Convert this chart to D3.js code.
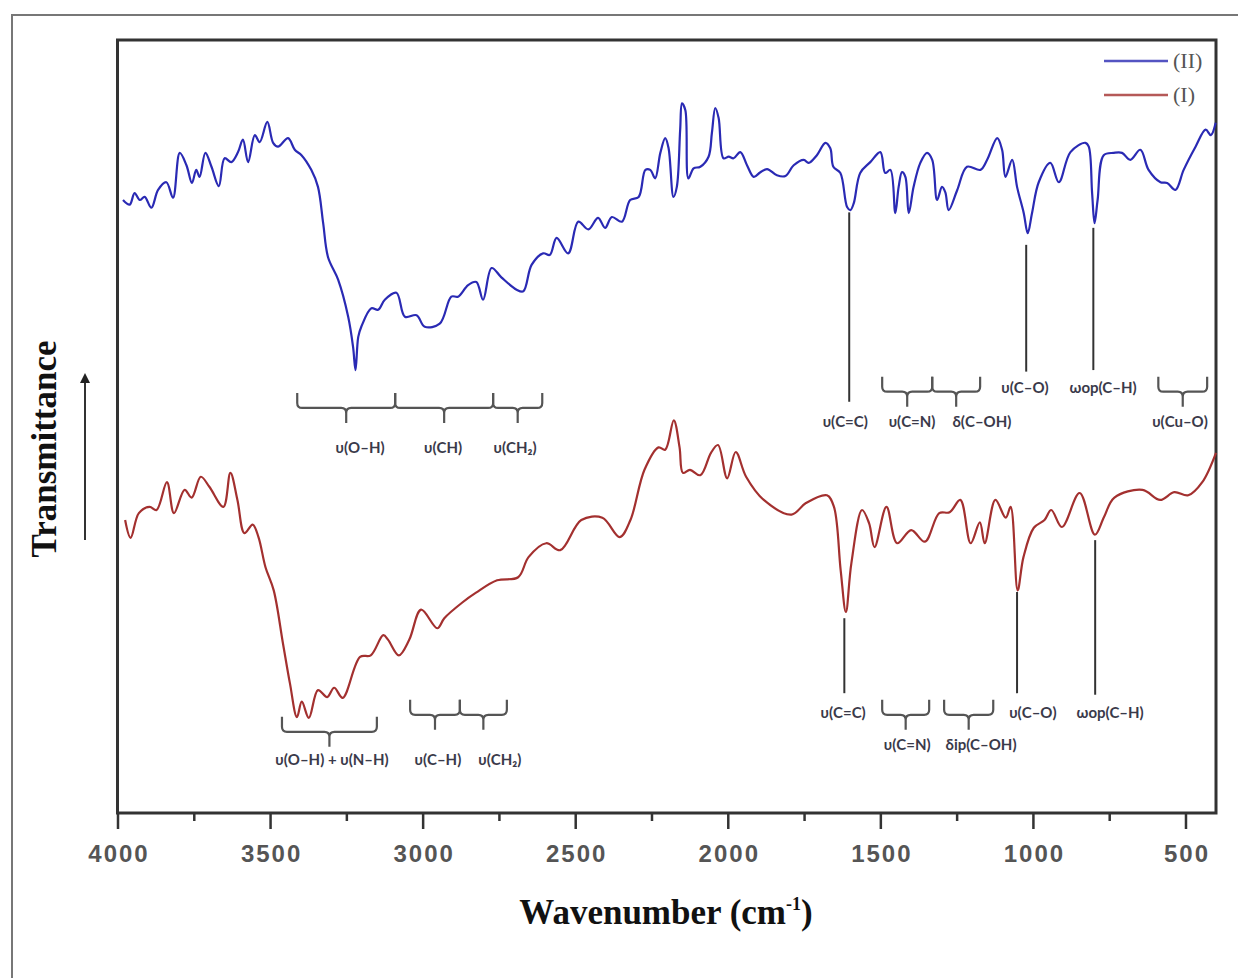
<!DOCTYPE html>
<html lang="en">
<head>
  <meta charset="utf-8">
  <title>FTIR (I) and (II)</title>
  <script src="https://d3js.org/d3.v7.min.js"></script>
  <style>
    body { margin: 0; background: #fff; }
    .tick-lab { font: bold 24px "Liberation Sans", Arial, sans-serif; fill: #555; letter-spacing: 2px; }
    .ann { font: bold 15px Lato, "Open Sans", sans-serif; fill: #3a3a4a; }
    .title { font-family: "Liberation Serif", "Times New Roman", serif; font-weight: bold; fill: #111; }
    .leg { font: 22px "Liberation Serif", serif; fill: #555; }
  </style>
</head>
<body>
<div id="chart"></div>
<script>
"use strict"

// spectrum (II) - blue, wavenumber (cm-1) and transmittance (a.u.)
var wnII = [3982,3960,3944,3927,3911,3889,3867,3840,3818,3796,3774,3756,3742,3731,3712,3692,3668,3649,3627,3605,
  3589,3572,3550,3534,3509,3490,3474,3441,3419,3397,3365,3343,3326,3310,3277,3244,3228,3220,3211,3201,
  3168,3146,3124,3086,3058,3020,2993,2944,2906,2884,2851,2824,2802,2774,2742,2692,2670,2643,2605,2583,
  2561,2523,2490,2457,2425,2402,2380,2347,2320,2292,2270,2254,2238,2221,2205,2194,2178,2167,2156,2150,
  2139,2129,2112,2090,2063,2052,2041,2030,2014,1997,1981,1959,1937,1915,1893,1871,1839,1811,1784,1751,
  1735,1708,1680,1664,1654,1631,1609,1598,1587,1566,1533,1500,1484,1467,1451,1440,1429,1418,1407,1391,
  1369,1347,1330,1314,1298,1287,1276,1248,1216,1172,1150,1117,1101,1090,1068,1052,1030,1017,1003,981,
  943,915,877,828,817,806,798,788,768,735,708,681,648,621,582,560,533,506,467,434,417,401];
var tII = [79.3,78.7,80.2,79.3,79.7,78.3,80.6,81.6,79.6,85.4,83.8,81.5,83.2,82.3,85.4,83.6,81.1,84.7,84.2,85.5,
  87.1,84.2,87.7,86.8,89.4,86.7,86.2,87.3,85.8,85.1,83.2,81.0,76.3,71.9,69.0,64.2,60.3,57.3,61.6,62.9,
  65.3,65.1,66.4,67.3,64.2,64.4,62.9,63.3,66.8,66.8,68.3,68.7,66.4,70.5,69.3,67.7,67.5,70.9,72.4,72.2,
  74.4,72.4,76.5,75.5,77.0,75.7,77.1,76.5,79.3,79.7,83.2,83.2,82.1,85.4,87.3,86.0,79.7,81.0,88.4,91.8,
  90.9,82.1,83.4,83.6,84.9,88.0,91.2,89.9,84.7,84.9,84.7,85.5,83.8,82.3,82.9,83.3,82.5,82.4,83.8,84.5,
  84.1,85.1,86.7,86.0,83.6,82.8,78.4,78.0,78.9,82.8,84.2,85.5,82.8,83.2,77.6,81.0,82.9,82.3,77.6,81.0,
  84.1,85.4,84.5,79.3,81.0,80.3,78.0,80.6,83.6,83.2,84.5,87.3,85.8,82.3,84.5,81.0,77.6,75.0,77.6,81.6,
  84.1,81.6,85.5,86.7,86.2,80.2,76.3,79.3,85.1,85.4,85.4,84.5,85.8,83.2,81.6,81.5,80.6,83.2,86.2,88.4,87.7,89.3];

// spectrum (I) - red
var wnI = [3975,3957,3930,3895,3872,3838,3815,3780,3757,3727,3699,3653,3630,3607,3584,3557,3538,3515,3488,3458,
  3435,3412,3396,3373,3343,3313,3290,3262,3205,3170,3129,3113,3078,3044,3005,2952,2929,2871,2825,2756,
  2687,2653,2595,2549,2480,2411,2354,2319,2273,2227,2205,2177,2158,2147,2124,2090,2055,2032,2002,1974,
  1940,1882,1791,1744,1675,1652,1630,1613,1595,1560,1537,1519,1480,1445,1399,1354,1307,1273,1238,1204,
  1174,1158,1123,1089,1073,1050,1031,997,962,940,905,847,797,767,733,641,583,537,491,445,400];
var tI = [37.9,35.6,38.8,39.6,39.2,42.8,38.8,41.8,40.8,43.5,42.2,39.6,44.0,40.5,36.2,37.3,35.7,31.8,28.8,22.0,
  16.8,12.4,14.4,12.3,15.9,15.0,16.2,14.9,20.2,20.4,23.0,22.4,20.4,22.4,26.3,23.9,25.2,27.2,28.5,30.1,
  30.5,33.1,34.9,34.0,37.9,38.2,35.7,37.9,44.4,47.3,47.0,50.8,47.3,44.0,44.4,43.7,46.6,47.6,43.3,46.7,
  43.5,40.5,38.6,40.1,41.1,39.6,31.4,26.0,32.3,39.2,37.5,34.4,39.6,34.9,36.6,35.1,38.8,38.9,40.5,34.9,
  37.6,34.9,40.5,38.2,39.6,28.8,33.1,36.9,37.9,39.2,37.0,41.4,36.0,38.3,40.8,41.8,40.5,41.5,41.1,42.8,46.6];

var majorTicks = [4000,3500,3000,2500,2000,1500,1000,500];
var minorTicks = [3750,3250,2750,2250,1750,1250,750];

// band assignments: vertical lines [wn, from, to], brackets [from, to, level], labels [text, wn, level]
var linesII = [[1602,77.7,53.2],[1022,73.5,57.1],[802,75.7,57.3]];
var bracketsII = [[3411,3090,52.4],[3090,2769,52.4],[2769,2608,52.4],[1494,1330,54.5],[1330,1173,54.5],[589,429,54.5]];
var labelsII = [["υ(O–H)",3205,46.6],["υ(CH)",2933,46.6],["υ(CH₂)",2697,46.6],
  ["υ(C=C)",1615,49.9],["υ(C=N)",1396,49.9],["δ(C–OH)",1167,49.9],["υ(Cu–O)",518,49.9],
  ["υ(C–O)",1026,54.3],["ωop(C–H)",770,54.3]];
var linesI = [[1618,25.2,15.5],[1052,28.6,15.5],[796,35.3,15.3]];
var bracketsI = [[3461,3150,10.5],[3041,2878,12.7],[2878,2724,12.7],[1494,1340,12.7],[1291,1130,12.7]];
var labelsI = [["υ(O–H) + υ(N–H)",3297,6.2],["υ(C–H)",2950,6.2],["υ(CH₂)",2747,6.2],
  ["υ(C=C)",1622,12.3],["υ(C–O)",1000,12.3],["ωop(C–H)",747,12.3],
  ["υ(C=N)",1412,8.2],["δip(C–OH)",1170,8.2]];

var series = [
  {name: "(II)", wn: wnII, t: tII, color: "#2a2ab4"},
  {name: "(I)", wn: wnI, t: tI, color: "#a3302f"}
];

var W = 1238, H = 978;
var margin = {top: 40, right: 22, bottom: 165, left: 117.5};
var larg = W - margin.left - margin.right, alt = H - margin.top - margin.bottom;

var svg = d3.select("#chart").append("svg").attr("width", W).attr("height", H);

// outer frame
svg.append("rect").attr("x", 12).attr("y", 15).attr("width", 1240).attr("height", 990)
  .attr("fill", "none").attr("stroke", "#777").attr("stroke-width", 2);

var g = svg.append("g").attr("transform", "translate(" + margin.left + "," + margin.top + ")");

var x = d3.scaleLinear().domain([4000, 400]).range([0, larg]);
var y = d3.scaleLinear().domain([0, 100]).range([alt, 0]);

// axes
var eixoX = g.append("g").attr("transform", "translate(0," + alt + ")")
  .call(d3.axisBottom(x).tickValues(majorTicks).tickSize(16).tickFormat(d3.format("d")));
eixoX.select(".domain").remove();
eixoX.selectAll("line").attr("stroke", "#333").attr("stroke-width", 2.5);
eixoX.selectAll("text").attr("class", "tick-lab").attr("dy", "1.25em").attr("dx", "1px");

g.append("g").attr("transform", "translate(0," + alt + ")")
  .call(d3.axisBottom(x).tickValues(minorTicks).tickSize(8).tickFormat(""))
  .call(function(s) { s.select(".domain").remove(); })
  .selectAll("line").attr("stroke", "#333").attr("stroke-width", 2.5);

g.append("rect").attr("width", larg).attr("height", alt)
  .attr("fill", "none").attr("stroke", "#333").attr("stroke-width", 3);

// curves
var linha = d3.line().curve(d3.curveCatmullRom.alpha(0.5))
  .x(function(d) { return x(d[0]); }).y(function(d) { return y(d[1]); });
series.forEach(function(s) {
  g.append("path").datum(d3.zip(s.wn, s.t))
    .attr("d", linha).attr("fill", "none")
    .attr("stroke", s.color).attr("stroke-width", 2.2).attr("stroke-linejoin", "round");
});

// assignments
function bracketPath(b) {
  var x1 = x(b[0]), x2 = x(b[1]), xm = (x1 + x2) / 2, yh = y(b[2]), r = 5;
  return "M" + x1 + "," + (yh - 15) + "L" + x1 + "," + (yh - r) +
    "Q" + x1 + "," + yh + " " + (x1 + r) + "," + yh +
    "L" + (xm - r) + "," + yh + "Q" + xm + "," + yh + " " + xm + "," + (yh + r) +
    "L" + xm + "," + (yh + 15) + "M" + xm + "," + (yh + r) +
    "Q" + xm + "," + yh + " " + (xm + r) + "," + yh +
    "L" + (x2 - r) + "," + yh + "Q" + x2 + "," + yh + " " + x2 + "," + (yh - r) +
    "L" + x2 + "," + (yh - 15);
}
[[linesII, bracketsII, labelsII], [linesI, bracketsI, labelsI]].forEach(function(grp) {
  g.selectAll(null).data(grp[0]).enter().append("line")
    .attr("x1", function(d) { return x(d[0]); }).attr("x2", function(d) { return x(d[0]); })
    .attr("y1", function(d) { return y(d[1]); }).attr("y2", function(d) { return y(d[2]); })
    .attr("stroke", "#333").attr("stroke-width", 2);
  g.selectAll(null).data(grp[1]).enter().append("path")
    .attr("d", bracketPath).attr("fill", "none").attr("stroke", "#555").attr("stroke-width", 2.2);
  g.selectAll(null).data(grp[2]).enter().append("text").attr("class", "ann")
    .attr("x", function(d) { return x(d[1]); }).attr("y", function(d) { return y(d[2]); })
    .attr("text-anchor", "middle").text(function(d) { return d[0]; });
});

// legend
series.forEach(function(s, i) {
  var ly = 21 + i * 34;
  g.append("line").attr("x1", larg - 112).attr("x2", larg - 48).attr("y1", ly).attr("y2", ly)
    .attr("stroke", s.color).attr("stroke-width", 2.5).attr("opacity", 0.8);
  g.append("text").attr("class", "leg").attr("x", larg - 43).attr("y", ly + 7).text(s.name);
});

// titles
var tx = svg.append("text").attr("class", "title").attr("x", 666).attr("y", 924)
  .attr("text-anchor", "middle").style("font-size", "35px");
tx.append("tspan").text("Wavenumber (cm");
tx.append("tspan").attr("dy", -14).style("font-size", "18px").text("-1");
tx.append("tspan").attr("dy", 14).text(")");

svg.append("text").attr("class", "title").attr("transform", "translate(56,449) rotate(-90)")
  .attr("text-anchor", "middle").style("font-size", "35px").text("Transmittance");

// arrow
svg.append("defs").append("marker").attr("id", "seta").attr("viewBox", "0 0 10 10")
  .attr("refX", 5).attr("refY", 5).attr("markerWidth", 5).attr("markerHeight", 5).attr("orient", "auto")
  .append("path").attr("d", "M0,0L10,5L0,10z").attr("fill", "#222");
svg.append("line").attr("x1", 85).attr("x2", 85).attr("y1", 540).attr("y2", 378)
  .attr("stroke", "#333").attr("stroke-width", 2).attr("marker-end", "url(#seta)");
</script>
</body>
</html>
